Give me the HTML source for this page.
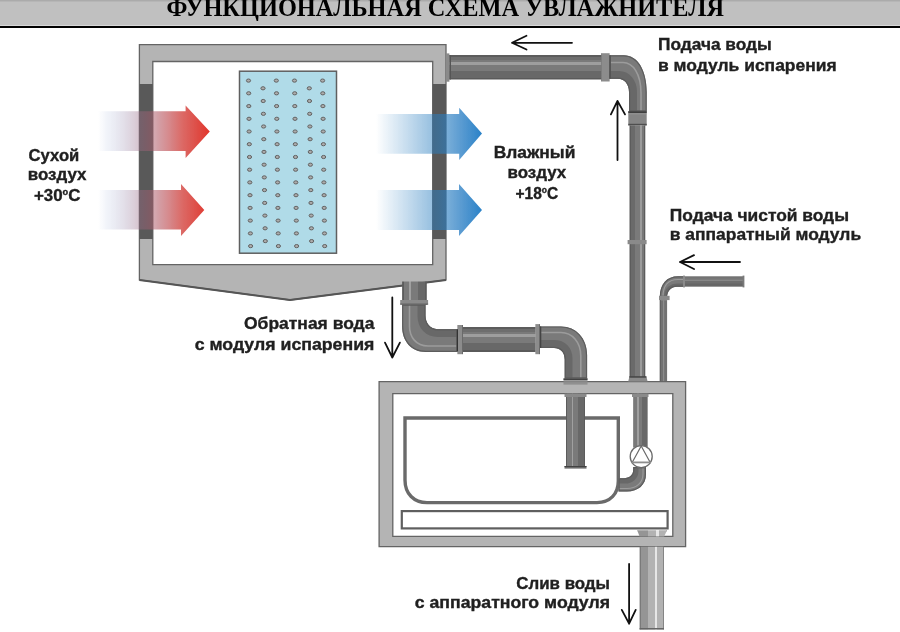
<!DOCTYPE html>
<html><head><meta charset="utf-8">
<style>
html,body{margin:0;padding:0;background:#fff;width:900px;height:632px;overflow:hidden}
svg{display:block;will-change:transform}
.lbl{font-family:"Liberation Sans",sans-serif;font-weight:bold;fill:#202020;stroke:#202020;stroke-width:0.35px;font-size:16.5px}
.ttl{font-family:"Liberation Serif",serif;font-weight:bold;fill:#000;font-size:26px}
</style></head><body>
<svg width="900" height="632" viewBox="0 0 900 632">
<defs>
<linearGradient id="pH" x1="0" y1="0" x2="0" y2="1"><stop offset="0" stop-color="#5c5c5c"/><stop offset="0.08" stop-color="#5c5c5c"/><stop offset="0.08" stop-color="#6e6e6e"/><stop offset="0.2" stop-color="#6e6e6e"/><stop offset="0.2" stop-color="#7a7a7a"/><stop offset="0.29" stop-color="#7a7a7a"/><stop offset="0.29" stop-color="#9e9e9e"/><stop offset="0.39" stop-color="#9e9e9e"/><stop offset="0.39" stop-color="#7a7a7a"/><stop offset="0.64" stop-color="#7a7a7a"/><stop offset="0.64" stop-color="#686868"/><stop offset="0.93" stop-color="#686868"/><stop offset="0.93" stop-color="#5a5a5a"/><stop offset="1" stop-color="#5a5a5a"/></linearGradient>
<linearGradient id="pVR" x1="0" y1="0" x2="1" y2="0"><stop offset="0" stop-color="#5c5c5c"/><stop offset="0.07" stop-color="#5c5c5c"/><stop offset="0.07" stop-color="#6a6a6a"/><stop offset="0.36" stop-color="#6a6a6a"/><stop offset="0.36" stop-color="#7a7a7a"/><stop offset="0.64" stop-color="#7a7a7a"/><stop offset="0.64" stop-color="#9c9c9c"/><stop offset="0.77" stop-color="#9c9c9c"/><stop offset="0.77" stop-color="#787878"/><stop offset="0.92" stop-color="#787878"/><stop offset="0.92" stop-color="#5c5c5c"/><stop offset="1" stop-color="#5c5c5c"/></linearGradient>
<linearGradient id="pVL" x1="0" y1="0" x2="1" y2="0"><stop offset="0" stop-color="#5c5c5c"/><stop offset="0.06" stop-color="#5c5c5c"/><stop offset="0.06" stop-color="#7a7a7a"/><stop offset="0.29" stop-color="#7a7a7a"/><stop offset="0.29" stop-color="#a0a0a0"/><stop offset="0.38" stop-color="#a0a0a0"/><stop offset="0.38" stop-color="#7a7a7a"/><stop offset="0.64" stop-color="#7a7a7a"/><stop offset="0.64" stop-color="#686868"/><stop offset="0.94" stop-color="#686868"/><stop offset="0.94" stop-color="#5c5c5c"/><stop offset="1" stop-color="#5c5c5c"/></linearGradient>
<linearGradient id="pD" x1="0" y1="0" x2="1" y2="0"><stop offset="0" stop-color="#7a7a7a"/><stop offset="0.04" stop-color="#7a7a7a"/><stop offset="0.04" stop-color="#959595"/><stop offset="0.35" stop-color="#959595"/><stop offset="0.35" stop-color="#b2b2b2"/><stop offset="0.63" stop-color="#b2b2b2"/><stop offset="0.63" stop-color="#e6e6e6"/><stop offset="0.72" stop-color="#e6e6e6"/><stop offset="0.72" stop-color="#b2b2b2"/><stop offset="0.95" stop-color="#b2b2b2"/><stop offset="0.95" stop-color="#858585"/><stop offset="1" stop-color="#858585"/></linearGradient>
<linearGradient id="cpH" x1="0" y1="0" x2="1" y2="0"><stop offset="0" stop-color="#6a6a6a"/><stop offset="0.12" stop-color="#6a6a6a"/><stop offset="0.12" stop-color="#8c8c8c"/><stop offset="0.88" stop-color="#8c8c8c"/><stop offset="0.88" stop-color="#6a6a6a"/><stop offset="1" stop-color="#6a6a6a"/></linearGradient>
<linearGradient id="gR" gradientUnits="userSpaceOnUse" x1="98" y1="0" x2="210" y2="0">
<stop offset="0" stop-color="#8aa0d0" stop-opacity="0"/>
<stop offset="0.08" stop-color="#8aa0d0" stop-opacity="0.12"/>
<stop offset="0.42" stop-color="#a0647a" stop-opacity="0.45"/>
<stop offset="0.75" stop-color="#d03833" stop-opacity="0.75"/>
<stop offset="1" stop-color="#e2342a" stop-opacity="1"/>
</linearGradient>
<linearGradient id="gB" gradientUnits="userSpaceOnUse" x1="376" y1="0" x2="482" y2="0">
<stop offset="0" stop-color="#2a7ec0" stop-opacity="0"/>
<stop offset="0.6" stop-color="#2a7ec0" stop-opacity="0.55"/>
<stop offset="0.8" stop-color="#2a7ec4" stop-opacity="0.77"/>
<stop offset="1" stop-color="#2a82c8" stop-opacity="1"/>
</linearGradient>
</defs>

<rect x="0" y="0" width="900" height="25" fill="#c0c0c0"/>
<rect x="0" y="0" width="900" height="1.5" fill="#ababab"/>
<rect x="0" y="25" width="900" height="1" fill="#d8d8d8"/>
<rect x="0" y="26" width="900" height="2" fill="#000"/>
<text class="ttl" x="166.5" y="15.6" textLength="557.5" lengthAdjust="spacingAndGlyphs">ФУНКЦИОНАЛЬНАЯ СХЕМА УВЛАЖНИТЕЛЯ</text>

<path d="M139.4,44.7 H446 V280 L290,300 L139.4,280 Z M152.8,61.5 V264.6 H432.7 V61.5 Z" fill="#b4b4b4" fill-rule="evenodd" stroke="#646464" stroke-width="1.3" stroke-linejoin="miter"/>
<path d="M139.4,280 L290,300 L446,280" fill="none" stroke="#555" stroke-width="1.8"/>
<rect x="139.4" y="84" width="13.4" height="155" fill="#595959"/>
<rect x="432.7" y="84" width="13.3" height="155" fill="#595959"/>

<rect x="239.5" y="71.2" width="97" height="182" fill="#b0dbe8" stroke="#5f5f5f" stroke-width="1.5"/>
<g fill="#acacac" stroke="#626262" stroke-width="1"><ellipse cx="248.5" cy="80.6" rx="2.1" ry="1.6"/><ellipse cx="276.3" cy="80.6" rx="2.1" ry="1.6"/><ellipse cx="294.5" cy="80.6" rx="2.1" ry="1.6"/><ellipse cx="322.6" cy="80.6" rx="2.1" ry="1.6"/><ellipse cx="248.7" cy="93.3" rx="2.1" ry="1.6"/><ellipse cx="276.5" cy="93.3" rx="2.1" ry="1.6"/><ellipse cx="294.7" cy="93.3" rx="2.1" ry="1.6"/><ellipse cx="322.8" cy="93.3" rx="2.1" ry="1.6"/><ellipse cx="248.8" cy="106.1" rx="2.1" ry="1.6"/><ellipse cx="276.6" cy="106.1" rx="2.1" ry="1.6"/><ellipse cx="294.8" cy="106.1" rx="2.1" ry="1.6"/><ellipse cx="322.9" cy="106.1" rx="2.1" ry="1.6"/><ellipse cx="249.0" cy="118.8" rx="2.1" ry="1.6"/><ellipse cx="276.8" cy="118.8" rx="2.1" ry="1.6"/><ellipse cx="295.0" cy="118.8" rx="2.1" ry="1.6"/><ellipse cx="323.1" cy="118.8" rx="2.1" ry="1.6"/><ellipse cx="249.1" cy="131.5" rx="2.1" ry="1.6"/><ellipse cx="276.9" cy="131.5" rx="2.1" ry="1.6"/><ellipse cx="295.1" cy="131.5" rx="2.1" ry="1.6"/><ellipse cx="323.2" cy="131.5" rx="2.1" ry="1.6"/><ellipse cx="249.3" cy="144.2" rx="2.1" ry="1.6"/><ellipse cx="277.1" cy="144.2" rx="2.1" ry="1.6"/><ellipse cx="295.3" cy="144.2" rx="2.1" ry="1.6"/><ellipse cx="323.4" cy="144.2" rx="2.1" ry="1.6"/><ellipse cx="249.5" cy="157.0" rx="2.1" ry="1.6"/><ellipse cx="277.3" cy="157.0" rx="2.1" ry="1.6"/><ellipse cx="295.5" cy="157.0" rx="2.1" ry="1.6"/><ellipse cx="323.6" cy="157.0" rx="2.1" ry="1.6"/><ellipse cx="249.6" cy="169.7" rx="2.1" ry="1.6"/><ellipse cx="277.4" cy="169.7" rx="2.1" ry="1.6"/><ellipse cx="295.6" cy="169.7" rx="2.1" ry="1.6"/><ellipse cx="323.7" cy="169.7" rx="2.1" ry="1.6"/><ellipse cx="249.8" cy="182.4" rx="2.1" ry="1.6"/><ellipse cx="277.6" cy="182.4" rx="2.1" ry="1.6"/><ellipse cx="295.8" cy="182.4" rx="2.1" ry="1.6"/><ellipse cx="323.9" cy="182.4" rx="2.1" ry="1.6"/><ellipse cx="250.0" cy="195.2" rx="2.1" ry="1.6"/><ellipse cx="277.8" cy="195.2" rx="2.1" ry="1.6"/><ellipse cx="296.0" cy="195.2" rx="2.1" ry="1.6"/><ellipse cx="324.1" cy="195.2" rx="2.1" ry="1.6"/><ellipse cx="250.1" cy="207.9" rx="2.1" ry="1.6"/><ellipse cx="277.9" cy="207.9" rx="2.1" ry="1.6"/><ellipse cx="296.1" cy="207.9" rx="2.1" ry="1.6"/><ellipse cx="324.2" cy="207.9" rx="2.1" ry="1.6"/><ellipse cx="250.3" cy="220.6" rx="2.1" ry="1.6"/><ellipse cx="278.1" cy="220.6" rx="2.1" ry="1.6"/><ellipse cx="296.3" cy="220.6" rx="2.1" ry="1.6"/><ellipse cx="324.4" cy="220.6" rx="2.1" ry="1.6"/><ellipse cx="250.4" cy="233.4" rx="2.1" ry="1.6"/><ellipse cx="278.2" cy="233.4" rx="2.1" ry="1.6"/><ellipse cx="296.4" cy="233.4" rx="2.1" ry="1.6"/><ellipse cx="324.5" cy="233.4" rx="2.1" ry="1.6"/><ellipse cx="250.6" cy="246.1" rx="2.1" ry="1.6"/><ellipse cx="278.4" cy="246.1" rx="2.1" ry="1.6"/><ellipse cx="296.6" cy="246.1" rx="2.1" ry="1.6"/><ellipse cx="324.7" cy="246.1" rx="2.1" ry="1.6"/><ellipse cx="263.0" cy="88.3" rx="2.1" ry="1.6"/><ellipse cx="309.3" cy="88.3" rx="2.1" ry="1.6"/><ellipse cx="263.2" cy="101.0" rx="2.1" ry="1.6"/><ellipse cx="309.5" cy="101.0" rx="2.1" ry="1.6"/><ellipse cx="263.4" cy="113.8" rx="2.1" ry="1.6"/><ellipse cx="309.7" cy="113.8" rx="2.1" ry="1.6"/><ellipse cx="263.6" cy="126.5" rx="2.1" ry="1.6"/><ellipse cx="309.9" cy="126.5" rx="2.1" ry="1.6"/><ellipse cx="263.8" cy="139.2" rx="2.1" ry="1.6"/><ellipse cx="310.1" cy="139.2" rx="2.1" ry="1.6"/><ellipse cx="264.0" cy="151.9" rx="2.1" ry="1.6"/><ellipse cx="310.3" cy="151.9" rx="2.1" ry="1.6"/><ellipse cx="264.1" cy="164.7" rx="2.1" ry="1.6"/><ellipse cx="310.4" cy="164.7" rx="2.1" ry="1.6"/><ellipse cx="264.3" cy="177.4" rx="2.1" ry="1.6"/><ellipse cx="310.6" cy="177.4" rx="2.1" ry="1.6"/><ellipse cx="264.5" cy="190.1" rx="2.1" ry="1.6"/><ellipse cx="310.8" cy="190.1" rx="2.1" ry="1.6"/><ellipse cx="264.7" cy="202.9" rx="2.1" ry="1.6"/><ellipse cx="311.0" cy="202.9" rx="2.1" ry="1.6"/><ellipse cx="264.9" cy="215.6" rx="2.1" ry="1.6"/><ellipse cx="311.2" cy="215.6" rx="2.1" ry="1.6"/><ellipse cx="265.1" cy="228.3" rx="2.1" ry="1.6"/><ellipse cx="311.4" cy="228.3" rx="2.1" ry="1.6"/><ellipse cx="265.3" cy="241.1" rx="2.1" ry="1.6"/><ellipse cx="311.6" cy="241.1" rx="2.1" ry="1.6"/></g>

<path d="M98.5,111.3 H185.6 V105.6 L209.8,131.5 L185.6,158 V151 H98.5 Z" fill="url(#gR)"/>
<path d="M98.5,189.9 H181 V184 L204.3,210 L181,236 V229.6 H98.5 Z" fill="url(#gR)"/>
<path d="M376,114 H459.2 V107.8 L482,133.6 L459.2,160 V153.8 H376 Z" fill="url(#gB)"/>
<path d="M376,190 H459 V184 L482,210 L459,236 V230 H376 Z" fill="url(#gB)"/>

<path d="M379.1,381.6 H685.6 V546.7 H379.1 Z M392.8,393.6 V536.4 H672.8 V393.6 Z" fill="#b4b4b4" fill-rule="evenodd" stroke="#646464" stroke-width="1.3"/>
<!-- top pipe -->
<rect x="446" y="53.4" width="3.4" height="28.3" fill="#8a8a8a"/>
<rect x="449.4" y="55" width="152" height="24.5" fill="url(#pH)"/>
<rect x="449.4" y="55" width="1.6" height="24.5" fill="#555"/>
<clipPath id="c1"><path d="M609.3,55.3 H624 C637.5,55.3 646.7,70 646.7,92 V111.5 H629 V92 C629,84 624,78.8 618,78.8 H609.3 Z"/></clipPath>
<path d="M609.3,55.3 H624 C637.5,55.3 646.7,70 646.7,92 V111.5 H629 V92 C629,84 624,78.8 618,78.8 H609.3 Z" fill="#7a7a7a"/>
<g clip-path="url(#c1)">
<path d="M609.3,75 H619 C627,75 633,82 633,92 V111.5" fill="none" stroke="#686868" stroke-width="8"/>
<path d="M609.3,62.5 H623 C633,62.5 641,74 641,93 V111.5" fill="none" stroke="#9c9c9c" stroke-width="1.6"/>
<path d="M609.3,55.3 H624 C637.5,55.3 646.7,70 646.7,92 V111.5 H629 V92 C629,84 624,78.8 618,78.8 H609.3 Z" fill="none" stroke="#5c5c5c" stroke-width="2.4"/>
</g>
<rect x="601.2" y="53.2" width="8.3" height="28.3" fill="url(#cpH)"/>
<rect x="609.3" y="55.3" width="1.6" height="23.5" fill="#555"/>
<rect x="628.3" y="111.2" width="18.4" height="14.2" fill="#858585"/>
<rect x="628.3" y="113.5" width="18.4" height="0.8" fill="#9a9a9a"/>
<rect x="628.3" y="111.2" width="18.4" height="1.8" fill="#3e3e3e"/>
<rect x="628.3" y="123.8" width="18.4" height="1.6" fill="#4e4e4e"/>
<rect x="629.5" y="125.4" width="15.8" height="252" fill="url(#pVR)"/>
<rect x="627.6" y="240" width="19" height="4.2" fill="#8a8a8a"/>
<path d="M629.4,376.6 H646.4 L647.6,381.6 H628.2 Z" fill="#8a8a8a"/>
<rect x="629.4" y="376.3" width="17" height="1.3" fill="#3a3a3a"/>

<!-- clean water pipe -->
<rect x="684" y="276.3" width="60" height="10.4" fill="#6e6e6e"/>
<rect x="684" y="277.2" width="60" height="2" fill="#767676"/>
<rect x="684" y="279.6" width="60" height="1.2" fill="#8e8e8e"/>
<rect x="684" y="283.5" width="60" height="2.4" fill="#666"/>
<rect x="742.6" y="275.6" width="1.8" height="11.8" fill="#7a7a7a"/>
<clipPath id="c4"><path d="M684.2,276.3 H678 C667,276.3 659.8,284 659.8,297 H667.1 C667.1,291 671,286.7 677,286.7 H684.2 Z"/></clipPath>
<path d="M684.2,276.3 H678 C667,276.3 659.8,284 659.8,297 H667.1 C667.1,291 671,286.7 677,286.7 H684.2 Z" fill="#7a7a7a"/>
<g clip-path="url(#c4)">
<path d="M684.2,285 H677 C672,285 665.5,288 665.5,297" fill="none" stroke="#686868" stroke-width="3"/>
<path d="M684.2,279.5 H678 C669,279.5 663,285 663,297" fill="none" stroke="#9c9c9c" stroke-width="1.1"/>
<path d="M684.2,276.3 H678 C667,276.3 659.8,284 659.8,297 H667.1 C667.1,291 671,286.7 677,286.7 H684.2 Z" fill="none" stroke="#5c5c5c" stroke-width="2.4"/>
</g>
<rect x="683" y="275.6" width="2" height="11.8" fill="#8a8a8a"/>
<rect x="659" y="295.8" width="10.6" height="4.3" fill="#8a8a8a"/>
<rect x="659.8" y="300.1" width="7.3" height="81" fill="#727272"/>
<rect x="663" y="300.1" width="1.2" height="81" fill="#8c8c8c"/>
<rect x="659.8" y="300.1" width="1" height="81" fill="#5e5e5e"/>

<!-- drain from upper module -->
<rect x="402.1" y="281.5" width="24.7" height="23.5" fill="url(#pVL)"/>
<clipPath id="c2"><path d="M402.1,304.6 V326 C402.1,341 411,352 426,352 H457.5 V329.2 H437.8 C430,329.2 425.5,323 425.5,315.6 V304.6 Z"/></clipPath>
<path d="M402.1,304.6 V326 C402.1,341 411,352 426,352 H457.5 V329.2 H437.8 C430,329.2 425.5,323 425.5,315.6 V304.6 Z" fill="#7a7a7a"/>
<g clip-path="url(#c2)">
<path d="M421.5,304.6 V316 C421.5,326 428,333 438,333 H457.5" fill="none" stroke="#686868" stroke-width="8"/>
<path d="M409.5,304.6 V326 C409.5,337 416,346 428,346 H457.5" fill="none" stroke="#9c9c9c" stroke-width="1.6"/>
<path d="M402.1,304.6 V326 C402.1,341 411,352 426,352 H457.5 V329.2 H437.8 C430,329.2 425.5,323 425.5,315.6 V304.6 Z" fill="none" stroke="#5c5c5c" stroke-width="2.4"/>
</g>
<rect x="400.2" y="300" width="27.9" height="4.6" fill="#8a8a8a"/>
<rect x="400.2" y="303.6" width="27.9" height="1" fill="#5a5a5a"/>
<rect x="463" y="327" width="72.5" height="25" fill="url(#pH)"/>
<rect x="457.5" y="325" width="5.5" height="29.2" fill="url(#cpH)"/>
<rect x="456.8" y="329.3" width="1.2" height="22" fill="#333"/>
<clipPath id="c3"><path d="M540,326.4 H561 C576,326.4 587.1,338 587.1,355 V378.5 H564.7 V359.4 C564.7,352 560,347.9 554,347.9 H540 Z"/></clipPath>
<path d="M540,326.4 H561 C576,326.4 587.1,338 587.1,355 V378.5 H564.7 V359.4 C564.7,352 560,347.9 554,347.9 H540 Z" fill="#7a7a7a"/>
<g clip-path="url(#c3)">
<path d="M540,344 H554 C563,344 568.5,350 568.5,359 V378.5" fill="none" stroke="#686868" stroke-width="8"/>
<path d="M540,332.5 H561 C572,332.5 580.8,342 580.8,356 V378.5" fill="none" stroke="#9c9c9c" stroke-width="1.6"/>
<path d="M540,326.4 H561 C576,326.4 587.1,338 587.1,355 V378.5 H564.7 V359.4 C564.7,352 560,347.9 554,347.9 H540 Z" fill="none" stroke="#5c5c5c" stroke-width="2.4"/>
</g>
<rect x="535.5" y="324.1" width="4.5" height="30.1" fill="url(#cpH)"/>
<rect x="540" y="326.5" width="1.2" height="21.5" fill="#444"/>
<rect x="563.5" y="378.4" width="24" height="6.2" fill="#8a8a8a" fill-opacity="0.85"/>
<rect x="563.5" y="378.4" width="24" height="1.5" fill="#3a3a3a"/>

<!-- lower module -->
<path d="M405,418 H618.3 V481 C618.3,494 610,502.6 597,502.6 H427 C414,502.6 405,494 405,480 Z" fill="none" stroke="#6a6a6a" stroke-width="3.4"/>
<rect x="566" y="393.6" width="19" height="74" fill="url(#pVL)"/>
<rect x="564.5" y="393.6" width="22" height="3.4" fill="#8a8a8a"/>
<rect x="564.5" y="466" width="22" height="2.6" fill="#6a6a6a"/>
<rect x="564.5" y="466" width="22" height="0.9" fill="#3e3e3e"/>
<rect x="633.3" y="393.6" width="14.3" height="54" fill="url(#pVL)"/>
<rect x="632" y="393.6" width="16.5" height="3.4" fill="#8a8a8a"/>
<clipPath id="c5"><path d="M646,467 V474 C646,485 638,491.5 627,491.5 H618.5 V478.2 H624 C629,478.2 633.2,475 633.2,470 V467 Z"/></clipPath>
<path d="M646,467 V474 C646,485 638,491.5 627,491.5 H618.5 V478.2 H624 C629,478.2 633.2,475 633.2,470 V467 Z" fill="#7a7a7a"/>
<g clip-path="url(#c5)">
<path d="M636,467 V471 C636,477 631,481 625,481 H618.5" fill="none" stroke="#686868" stroke-width="5"/>
<path d="M643,467 V474 C643,483 636,488.5 627,488.5 H618.5" fill="none" stroke="#9c9c9c" stroke-width="1.1"/>
<path d="M646,467 V474 C646,485 638,491.5 627,491.5 H618.5 V478.2 H624 C629,478.2 633.2,475 633.2,470 V467 Z" fill="none" stroke="#5c5c5c" stroke-width="2.4"/>
</g>
<circle cx="641.2" cy="456.6" r="11" fill="#fff" stroke="#6a6a6a" stroke-width="1.3"/>
<path d="M641.2,446 L632.3,462.2 M641.2,446 L650.1,462.2" fill="none" stroke="#6a6a6a" stroke-width="1.2"/>
<path d="M631.5,462.4 H651" fill="none" stroke="#8e8e8e" stroke-width="1.8"/>

<rect x="401.8" y="511.1" width="265.8" height="17.3" fill="#fff" stroke="#5f5f5f" stroke-width="2.2"/>
<path d="M637.2,530.3 H667 L664.2,536.6 H639.6 Z" fill="url(#pD)"/>
<rect x="639.6" y="546.7" width="24.4" height="82.8" fill="url(#pD)"/>
<rect x="639.6" y="628" width="24.4" height="1.5" fill="#666"/>

<g stroke="#111" stroke-width="1.8" fill="none" stroke-linecap="round" stroke-linejoin="round">
<path d="M512,42.8 H572 M526.5,35.8 L512,42.8 L526.5,49.5"/>
<path d="M617.5,100.9 V160 M610.9,114.4 L617.5,100.9 L625,114.4"/>
<path d="M680,262 H740 M694,255.1 L680,262 L694,269"/>
<path d="M392.3,297.4 V357.5 M385,342.6 L392.3,357.5 L399.9,342.6"/>
<path d="M629.1,564 V623.7 M621.8,609.9 L629.1,623.7 L635.7,609.9"/>
</g>

<g class="lbl">
<text x="28.6" y="160.5" textLength="50.7" lengthAdjust="spacingAndGlyphs">Сухой</text>
<text x="27.8" y="180.4" textLength="58.7" lengthAdjust="spacingAndGlyphs">воздух</text>
<text x="33.9" y="201.3" textLength="46.5" lengthAdjust="spacingAndGlyphs">+30<tspan font-size="9" dy="-6.5">o</tspan><tspan dy="6.5">C</tspan></text>
<text x="493.7" y="158.2" textLength="81.7" lengthAdjust="spacingAndGlyphs">Влажный</text>
<text x="507.5" y="178.4" textLength="58.7" lengthAdjust="spacingAndGlyphs">воздух</text>
<text x="515.5" y="199.2" textLength="42.7" lengthAdjust="spacingAndGlyphs">+18<tspan font-size="9" dy="-6.5">o</tspan><tspan dy="6.5">C</tspan></text>
<text x="658" y="49.8" textLength="113.8" lengthAdjust="spacingAndGlyphs">Подача воды</text>
<text x="658" y="70.9" textLength="178.7" lengthAdjust="spacingAndGlyphs">в модуль испарения</text>
<text x="669.8" y="220.5" textLength="179.2" lengthAdjust="spacingAndGlyphs">Подача чистой воды</text>
<text x="669.8" y="239.7" textLength="191.3" lengthAdjust="spacingAndGlyphs">в аппаратный модуль</text>
<text x="244" y="329" textLength="130.4" lengthAdjust="spacingAndGlyphs">Обратная вода</text>
<text x="194.7" y="349.5" textLength="179.7" lengthAdjust="spacingAndGlyphs">с модуля испарения</text>
<text x="516.3" y="589.3" textLength="93.7" lengthAdjust="spacingAndGlyphs">Слив воды</text>
<text x="414.8" y="608.4" textLength="195.2" lengthAdjust="spacingAndGlyphs">с аппаратного модуля</text>
</g>
</svg>
</body></html>
